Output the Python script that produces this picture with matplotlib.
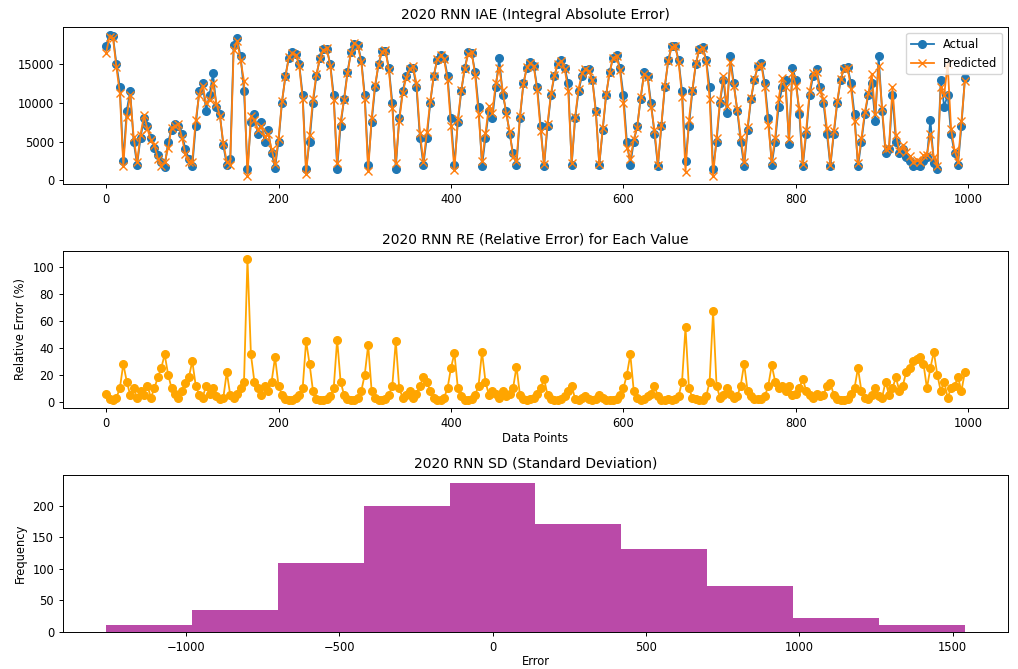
import matplotlib
matplotlib.use("Agg")
import matplotlib.pyplot as plt
import numpy as np

# values, one every 4 data points
step = 4

actual = [
    17300, 18800, 18600, 15000, 12000, 2500, 9000, 11500, 5000, 2000,
    5500, 8000, 7000, 5500, 4200, 3300, 2400, 1700, 5000, 6500,
    7300, 7000, 6000, 4000, 2800, 1800, 7000, 11500, 12500, 9000,
    11000, 13800, 9500, 8500, 4500, 2000, 2800, 17500, 18300, 16000,
    11500, 1500, 7500, 8500, 6000, 7500, 5000, 6500, 3500, 1600,
    5000, 10000, 13500, 15800, 16500, 16300, 15000, 11000, 1500, 5000,
    10000, 13500, 15800, 16900, 16900, 15000, 11000, 1500, 7000, 10500,
    14000, 16500, 17600, 17500, 15500, 11000, 2000, 7500, 12000, 15000,
    16700, 16700, 14500, 10000, 1500, 8000, 11500, 13500, 14500, 14500,
    12000, 5500, 2000, 5500, 10000, 13500, 15500, 16200, 15800, 13500,
    8000, 2000, 7500, 11500, 14500, 16500, 16400, 14000, 9500, 1800,
    5500, 9000, 8000, 12000, 15800, 11000, 9000, 6000, 3500, 2000,
    8000, 12500, 14500, 15200, 14800, 12000, 7000, 1800, 7000, 11000,
    13500, 15000, 15500, 14500, 12500, 2000, 8000, 11500, 13500, 14200,
    14300, 13000, 9000, 2000, 6500, 11000, 14000, 15800, 16200, 14500,
    11000, 5000, 2000, 5000, 7000, 10500, 14000, 13500, 10000, 6000,
    1800, 7000, 12000, 15500, 17300, 17300, 15500, 11500, 2500, 7000,
    11500, 15000, 16900, 17200, 15500, 12000, 1500, 5000, 10000, 13000,
    8700, 16000, 12500, 9000, 5000, 1800, 6500, 10500, 13000, 14800,
    15100, 12500, 8000, 2000, 5000, 9500, 12000, 13000, 4700, 14500,
    13000, 8500, 1800, 6000, 11000, 13500, 14300, 12000, 10000, 6000,
    1800, 6000, 10000, 13000, 14500, 14600, 12500, 8500, 1800, 5000,
    8500, 11000, 12500, 7700, 16000, 9000, 3500, 4000, 11000, 5000,
    3500, 4000, 3000, 2500, 1800, 2000, 1800, 2500, 3000, 7800,
    2200, 1500, 13000, 9500, 11000, 6000, 3500, 2000, 7000, 13200,
]

predicted = [
    16400, 18500, 18400, 14600, 11200, 1900, 8200, 11000, 5600, 2300,
    5900, 8400, 6600, 5200, 4600, 2800, 1900, 2300, 4200, 6800,
    7000, 7200, 5500, 3400, 2300, 2400, 7800, 11000, 12200, 10000,
    10300, 12500, 9900, 8300, 4800, 2400, 2000, 16800, 18000, 15500,
    12800, 600, 8300, 7800, 6500, 7000, 5600, 6000, 4000, 2100,
    5300, 10200, 13300, 15900, 16400, 16200, 14800, 10500, 800, 5800,
    10500, 13700, 15600, 16800, 17000, 14800, 10400, 2200, 7600, 10300,
    13800, 16400, 17700, 17300, 15300, 10500, 1200, 8000, 12300, 14900,
    16600, 16800, 14200, 9300, 2200, 7700, 11200, 13200, 14300, 14700,
    12500, 6100, 2400, 6200, 10200, 13400, 15600, 16100, 15600, 13000,
    7000, 1300, 7900, 11700, 14400, 16300, 16500, 13600, 8600, 2500,
    6100, 9600, 8700, 12600, 14500, 11600, 8600, 6400, 3000, 2500,
    8300, 12400, 14600, 15100, 14700, 11600, 6400, 2100, 7300, 11200,
    13600, 15000, 15400, 14300, 11500, 2200, 8200, 11800, 13800, 14300,
    14100, 12900, 8800, 2100, 6700, 11100, 13900, 15800, 16000, 14200,
    10000, 4200, 2700, 5300, 6800, 10700, 13700, 13300, 9500, 6500,
    2000, 7100, 12200, 15400, 17200, 17300, 15300, 10800, 1100, 7800,
    11700, 15100, 16800, 17100, 15300, 10500, 500, 5500, 10300, 13400,
    9600, 15200, 12200, 9200, 5600, 2300, 6900, 10600, 13100, 14700,
    14900, 12000, 7100, 2500, 5500, 10500, 13200, 12000, 5300, 13800,
    12200, 9300, 2100, 6500, 11500, 13900, 14000, 11500, 10500, 6700,
    2000, 6300, 10200, 13100, 14400, 14500, 11800, 7700, 2200, 5400,
    8800, 11200, 13700, 8500, 14800, 9300, 4000, 4200, 12000, 5900,
    3800, 4500, 3700, 3100, 2300, 2600, 2400, 3200, 3300, 6000,
    3000, 1800, 12000, 11000, 15000, 6600, 3900, 2400, 7600, 12800,
]

rel_error = [
    6, 2, 1, 3, 10, 28, 15, 5, 10, 3,
    8, 5, 12, 3, 10, 18, 25, 35, 20, 10,
    6, 3, 8, 14, 18, 30, 12, 5, 3, 12,
    6, 10, 4, 2, 3, 22, 5, 3, 6, 10,
    15, 106, 35, 15, 10, 5, 12, 8, 15, 33,
    12, 5, 2, 1, 1, 3, 5, 10, 45, 28,
    8, 2, 1, 1, 2, 4, 10, 46, 15, 5,
    2, 1, 1, 3, 8, 20, 42, 8, 3, 1,
    1, 2, 5, 12, 45, 10, 3, 5, 8, 3,
    6, 12, 18, 15, 8, 3, 1, 1, 3, 10,
    25, 36, 10, 4, 1, 1, 2, 5, 12, 37,
    15, 5, 8, 6, 3, 8, 4, 6, 10, 26,
    5, 2, 1, 2, 3, 6, 10, 17, 5, 2,
    1, 1, 2, 4, 8, 12, 2, 1, 3, 4,
    2, 1, 2, 5, 3, 1, 1, 1, 2, 5,
    10, 20, 35, 8, 3, 1, 2, 4, 6, 12,
    4, 1, 1, 2, 1, 2, 4, 15, 55, 10,
    3, 2, 1, 1, 4, 15, 67, 12, 3, 5,
    10, 6, 3, 4, 12, 28, 8, 4, 2, 2,
    2, 4, 12, 27, 15, 10, 12, 8, 12, 5,
    6, 10, 17, 8, 5, 3, 6, 4, 5, 12,
    14, 5, 2, 1, 1, 2, 6, 10, 25, 8,
    3, 2, 5, 10, 4, 3, 15, 5, 10, 18,
    8, 12, 22, 25, 30, 32, 33, 28, 10, 25,
    37, 20, 8, 15, 3, 10, 12, 18, 8, 22,
]

hist_edges = [-1260, -980, -700, -420, -140, 140, 420, 700, 980, 1260, 1540]
hist_counts = [10, 35, 110, 200, 237, 171, 132, 72, 22, 11]

x = np.arange(len(actual)) * step

plt.rcParams["font.size"] = 8.3
plt.rcParams["axes.linewidth"] = 0.7
plt.rcParams["xtick.major.width"] = 0.7
plt.rcParams["ytick.major.width"] = 0.7
plt.rcParams["xtick.major.size"] = 3
plt.rcParams["ytick.major.size"] = 3

fig, axes = plt.subplots(3, 1, figsize=(10.18, 6.69), dpi=100)
fig.subplots_adjust(left=0.062, right=0.990, top=0.959, bottom=0.056, hspace=0.435)

# IAE
ax = axes[0]
ax.plot(x, actual, marker="o", markersize=5.5, linewidth=1.3, label="Actual")
ax.plot(x, predicted, marker="x", markersize=5.5, linewidth=1.3, label="Predicted")
ax.set_title("2020 RNN IAE (Integral Absolute Error)", fontsize=10)
ax.set_xticks([0, 200, 400, 600, 800, 1000])
ax.set_yticks([0, 5000, 10000, 15000])
ax.legend(loc="upper right", fontsize=8.3)

# RE
ax = axes[1]
ax.plot(x, rel_error, marker="o", markersize=5.5, linewidth=1.3, color="orange")
ax.set_title("2020 RNN RE (Relative Error) for Each Value", fontsize=10)
ax.set_xlabel("Data Points", labelpad=2)
ax.set_ylabel("Relative Error (%)")
ax.set_xticks([0, 200, 400, 600, 800, 1000])

# SD histogram
ax = axes[2]
widths = np.diff(hist_edges)
ax.bar(hist_edges[:-1], hist_counts, width=widths, align="edge", color="#BA4AA8")
ax.set_title("2020 RNN SD (Standard Deviation)", fontsize=10)
ax.set_xlabel("Error", labelpad=1)
ax.set_ylabel("Frequency")

fig.savefig("out.png", dpi=100)
